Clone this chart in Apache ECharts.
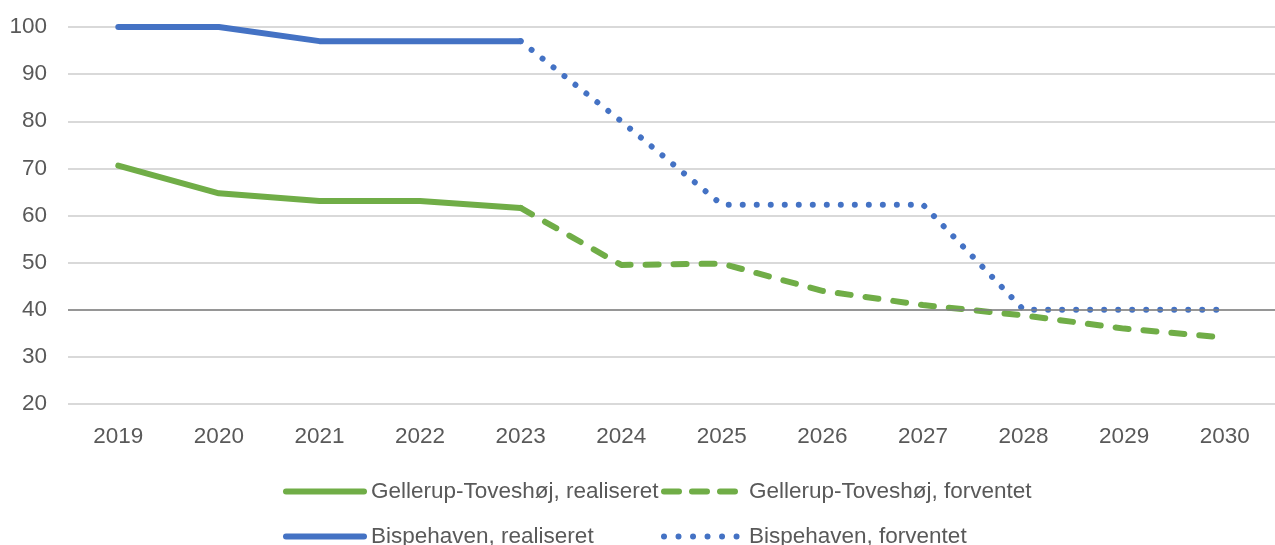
<!DOCTYPE html>
<html>
<head>
<meta charset="utf-8">
<script src="https://cdn.jsdelivr.net/npm/echarts@6/dist/echarts.min.js"></script>
<style>
html,body{margin:0;padding:0;background:#fff;}
#chart{width:1275px;height:545px;}
</style>
</head>
<body>
<div id="chart"></div>
<script>
const years = ['2019','2020','2021','2022','2023','2024','2025','2026','2027','2028','2029','2030'];
const gellerupRealiseret = [70.6, 64.7, 63.1, 63.1, 61.6, null, null, null, null, null, null, null];
const gellerupForventet  = [null, null, null, null, 61.6, 49.5, 49.8, 44.0, 41.0, 38.8, 36.0, 34.1];
const bispeRealiseret    = [100, 100, 97, 97, 97, null, null, null, null, null, null, null];
const bispeForventet     = [null, null, null, null, 97, 80, 62.3, 62.3, 62.3, 40, 40, 40];
const names = ['Gellerup-Toveshøj, realiseret','Gellerup-Toveshøj, forventet','Bispehaven, realiseret','Bispehaven, forventet'];

const GREEN = '#70ad47', BLUE = '#4472c4';
const font = 'Liberation Sans, Arial, sans-serif';
const FS = 22.5;
const chart = echarts.init(document.getElementById('chart'));

function legend(name, left, top, type, width){
  return {
    data:[name], left:left, top:top, padding:0, itemWidth:78, itemHeight:14,
    itemStyle:{opacity:0},
    lineStyle:{width:width, type:type, cap:'round'},
    textStyle:{color:'#595959', fontSize:FS, fontFamily:font, padding:[0,0,0,2]}
  };
}

chart.setOption({
  animation:false,
  backgroundColor:'#fff',
  grid:{left:68, right:-10, top:27, bottom:141},
  legend:[
    legend(names[0], 283, 480, 'solid', 6),
    legend(names[1], 661, 480, [15, 13], 6),
    legend(names[2], 283, 525, 'solid', 6),
    legend(names[3], 661, 525, [0.01, 14.5], 6)
  ],
  xAxis:{
    type:'category', data:years, boundaryGap:true,
    axisLine:{show:false}, axisTick:{show:false},
    axisLabel:{color:'#595959', fontSize:FS, fontFamily:font, margin:21}
  },
  yAxis:{
    type:'value', min:20, max:100, interval:10,
    axisLine:{show:false}, axisTick:{show:false},
    axisLabel:{color:'#595959', fontSize:FS, fontFamily:font, margin:21},
    splitLine:{lineStyle:{color:'#d9d9d9', width:2}}
  },
  series:[
    {name:names[0], type:'line', data:gellerupRealiseret, symbol:'none', connectNulls:false,
     lineStyle:{color:GREEN, width:6, cap:'round', join:'round'}, itemStyle:{color:GREEN},
     markLine:{silent:true, symbol:'none', label:{show:false}, lineStyle:{color:'#7f7f7f', width:1.5, type:'solid'}, data:[{yAxis:40}]}, z:3},
    {name:names[1], type:'line', data:gellerupForventet, symbol:'none',
     lineStyle:{color:GREEN, width:6, type:[13, 15], cap:'round', join:'round'}, itemStyle:{color:GREEN}, z:3},
    {name:names[2], type:'line', data:bispeRealiseret, symbol:'none',
     lineStyle:{color:BLUE, width:6, cap:'round', join:'round'}, itemStyle:{color:BLUE}, z:3},
    {name:names[3], type:'line', data:bispeForventet, symbol:'none',
     lineStyle:{color:BLUE, width:6, type:[0.01, 14], cap:'round', join:'round'}, itemStyle:{color:BLUE}, z:3}
  ]
});
</script>
</body>
</html>
